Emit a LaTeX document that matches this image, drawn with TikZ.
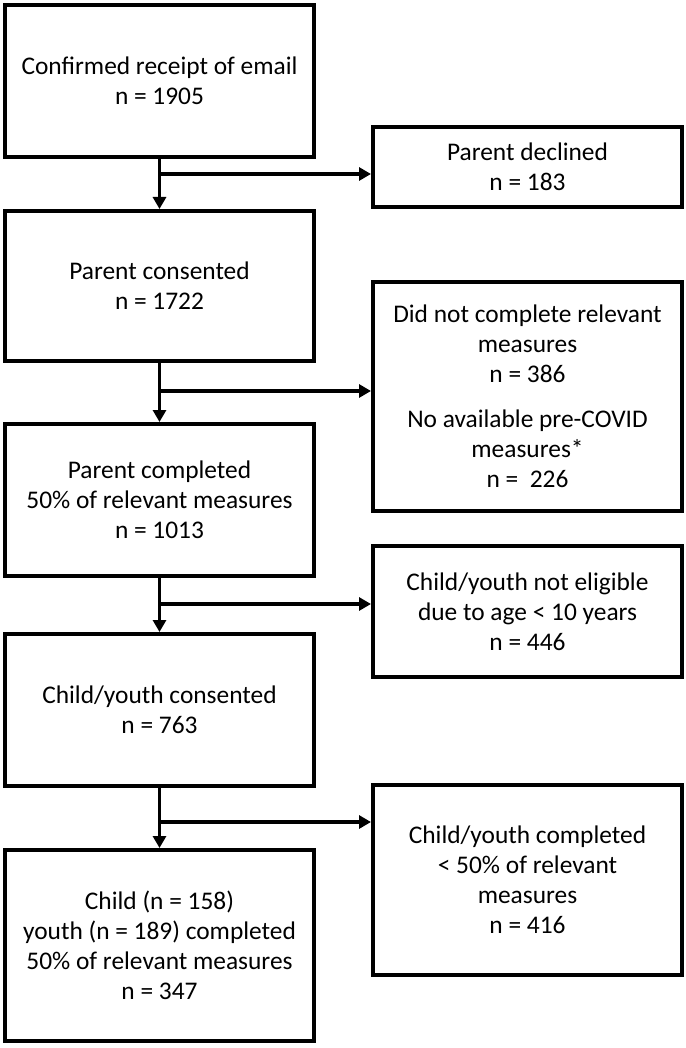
\documentclass[tikz,border=0pt]{standalone}
\usepackage{fontspec}
\setmainfont{Carlito}
\usepackage{tikz}
\usetikzlibrary{arrows.meta, positioning, calc}
\tikzset{
  flowbox/.style={
    rectangle, draw=black, line width=2pt, minimum width=154.5pt,
    minimum height=76pt, text centered, align=center,
    font=\fontsize{12.7}{15}\selectfont, inner sep=2pt
  },
  exclbox/.style={
    rectangle, draw=black, line width=2pt, minimum width=154.5pt,
    text centered, align=center,
    font=\fontsize{12.7}{15}\selectfont, inner sep=2pt
  },
  arrow/.style={-{Triangle[length=6pt,width=6.5pt]}, line width=1.7pt, color=black}
}

\begin{document}
\begin{tikzpicture}
  \useasboundingbox (0,0) rectangle (342.5pt,-524pt);

  % main column
  \node[flowbox] (receipt) at (79.75pt,-40.5pt)
    {Confirmed receipt of email\\n = 1905};
  \node[flowbox, below=25pt of receipt, minimum height=75pt] (pconsent)
    {Parent consented\\n = 1722};
  \node[flowbox, below=29.5pt of pconsent] (pcomplete)
    {Parent completed\\50\% of relevant measures\\n = 1013};
  \node[flowbox, below=27pt of pcomplete] (cconsent)
    {Child/youth consented\\n = 763};
  \node[flowbox, below=30pt of cconsent, minimum height=95.5pt] (ccomplete)
    {Child (n = 158)\\youth (n = 189) completed\\50\% of relevant measures\\n = 347};

  % excluded
  \node[exclbox, minimum height=40pt] (declined) at (263.75pt,-83.5pt)
    {Parent declined\\n = 183};
  \node[exclbox, minimum height=114.5pt] (nomeasures) at (263.75pt,-198.25pt)
    {Did not complete relevant\\measures\\n = 386\\[7.5pt]No available pre-COVID\\measures*\\n = \ 226};
  \node[exclbox, minimum height=65.5pt] (ineligible) at (263.75pt,-305.75pt)
    {Child/youth not eligible\\due to age < 10 years\\n = 446};
  \node[exclbox, minimum height=95pt] (incomplete) at (263.75pt,-440pt)
    {Child/youth completed\\< 50\% of relevant\\measures\\n = 416};

  \coordinate (j1) at ($(receipt.south)+(0,-7.5pt)$);
  \coordinate (j2) at ($(pconsent.south)+(0,-14pt)$);
  \coordinate (j3) at ($(pcomplete.south)+(0,-13pt)$);
  \coordinate (j4) at ($(cconsent.south)+(0,-17pt)$);

  \draw[arrow] (receipt) -- (pconsent);
  \draw[arrow] (pconsent) -- (pcomplete);
  \draw[arrow] (pcomplete) -- (cconsent);
  \draw[arrow] (cconsent) -- (ccomplete);
  \draw[arrow] (j1) -- (j1 -| declined.west);
  \draw[arrow] (j2) -- (j2 -| nomeasures.west);
  \draw[arrow] (j3) -- (j3 -| ineligible.west);
  \draw[arrow] (j4) -- (j4 -| incomplete.west);
\end{tikzpicture}
\end{document}
